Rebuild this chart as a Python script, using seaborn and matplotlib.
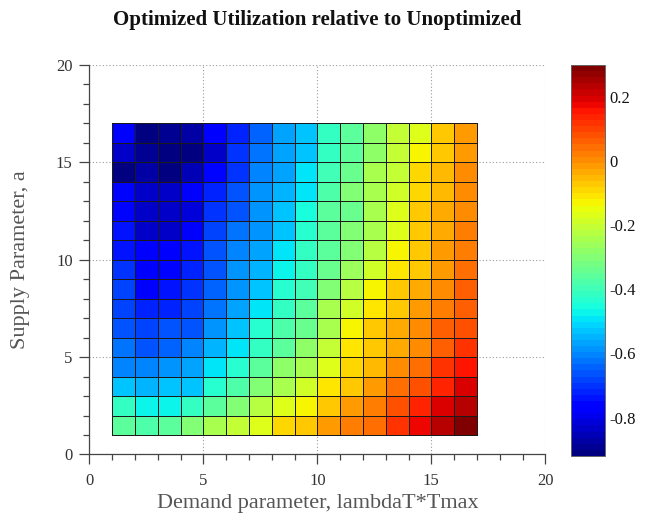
import numpy as np
import pandas as pd
import matplotlib
matplotlib.use("Agg")
import matplotlib.pyplot as plt
import seaborn as sns
from matplotlib.ticker import MultipleLocator

# ---- data (rows read from top: a = 16..17 down to a = 1..2) ----
demand = list(range(1, 17))          # lambdaT*Tmax cell lower edges
supply = list(range(16, 0, -1))      # supply parameter a, top row first

util_a16 = [-0.78, -0.91, -0.90, -0.88, -0.78, -0.72, -0.64, -0.56, -0.53, -0.41, -0.36, -0.28, -0.21, -0.16, -0.07, -0.02]
util_a15 = [-0.83, -0.89, -0.92, -0.91, -0.83, -0.70, -0.63, -0.56, -0.53, -0.41, -0.36, -0.28, -0.21, -0.13, -0.07, -0.02]
util_a14 = [-0.91, -0.87, -0.91, -0.86, -0.75, -0.70, -0.61, -0.56, -0.50, -0.39, -0.33, -0.25, -0.21, -0.10, -0.05, 0.00]
util_a13 = [-0.75, -0.84, -0.84, -0.77, -0.72, -0.67, -0.59, -0.55, -0.49, -0.38, -0.31, -0.24, -0.19, -0.10, -0.05, 0.00]
util_a12 = [-0.75, -0.84, -0.83, -0.81, -0.70, -0.66, -0.59, -0.53, -0.45, -0.36, -0.33, -0.25, -0.17, -0.08, -0.03, 0.01]
util_a11 = [-0.73, -0.83, -0.83, -0.78, -0.69, -0.63, -0.58, -0.52, -0.44, -0.36, -0.31, -0.24, -0.16, -0.08, -0.03, 0.03]
util_a10 = [-0.73, -0.77, -0.78, -0.73, -0.67, -0.61, -0.56, -0.50, -0.42, -0.35, -0.30, -0.22, -0.13, -0.07, -0.02, 0.03]
util_a9 = [-0.70, -0.78, -0.75, -0.72, -0.66, -0.59, -0.55, -0.47, -0.42, -0.33, -0.27, -0.19, -0.11, -0.07, -0.02, 0.04]
util_a8 = [-0.69, -0.77, -0.73, -0.70, -0.64, -0.58, -0.53, -0.44, -0.39, -0.30, -0.22, -0.13, -0.08, -0.03, 0.01, 0.06]
util_a7 = [-0.69, -0.72, -0.72, -0.69, -0.63, -0.56, -0.50, -0.42, -0.35, -0.25, -0.19, -0.11, -0.07, -0.02, 0.03, 0.07]
util_a6 = [-0.67, -0.69, -0.67, -0.66, -0.59, -0.53, -0.44, -0.38, -0.33, -0.24, -0.13, -0.08, -0.03, 0.00, 0.06, 0.09]
util_a5 = [-0.63, -0.66, -0.64, -0.61, -0.55, -0.50, -0.41, -0.35, -0.28, -0.21, -0.11, -0.07, -0.03, 0.01, 0.07, 0.12]
util_a4 = [-0.61, -0.61, -0.59, -0.56, -0.50, -0.44, -0.36, -0.28, -0.24, -0.16, -0.10, -0.05, 0.00, 0.04, 0.11, 0.15]
util_a3 = [-0.52, -0.55, -0.53, -0.52, -0.44, -0.38, -0.31, -0.25, -0.19, -0.11, -0.07, -0.02, 0.04, 0.09, 0.14, 0.20]
util_a2 = [-0.42, -0.47, -0.47, -0.41, -0.36, -0.31, -0.22, -0.17, -0.13, -0.08, -0.02, 0.03, 0.09, 0.14, 0.20, 0.23]
util_a1 = [-0.35, -0.38, -0.36, -0.31, -0.25, -0.21, -0.16, -0.10, -0.07, -0.02, 0.03, 0.04, 0.12, 0.18, 0.23, 0.30]

axis_ticks = [0, 5, 10, 15, 20]
cbar_ticks = [-0.8, -0.6, -0.4, -0.2, 0, 0.2]
cbar_labels = ["-0.8", "-0.6", "-0.4", "-0.2", "0", "0.2"]
c_min, c_max = -0.92, 0.30

rows = [util_a16, util_a15, util_a14, util_a13, util_a12, util_a11, util_a10, util_a9,
        util_a8, util_a7, util_a6, util_a5, util_a4, util_a3, util_a2, util_a1]
df = pd.DataFrame(rows, index=supply, columns=demand)

# ---- style ----
sns.set_style("white")
plt.rcParams["font.family"] = ["Liberation Serif", "DejaVu Serif"]
plt.rcParams["axes.unicode_minus"] = False

fig = plt.figure(figsize=(6.52, 5.14), dpi=100)
ax = fig.add_axes([0.137, 0.1158, 0.6994, 0.758])
cax = fig.add_axes([0.8758, 0.1128, 0.0521, 0.7607])

ax.set_xlim(0, 20)
ax.set_ylim(0, 20)
ax.set_xticks(axis_ticks)
ax.set_yticks(axis_ticks)
ax.xaxis.set_minor_locator(MultipleLocator(1))
ax.yaxis.set_minor_locator(MultipleLocator(1))
ax.grid(True, which="major", linestyle=(0, (1, 2)), color="#9a9a9a", linewidth=0.8)
ax.set_axisbelow(True)
for s in ["top", "right"]:
    ax.spines[s].set_visible(False)
for s in ["left", "bottom"]:
    ax.spines[s].set_color("#444444")
    ax.spines[s].set_linewidth(0.9)
ax.tick_params(axis="both", which="both", direction="out", color="#444444", width=0.9,
               bottom=True, left=True, labelsize=12, labelcolor="#333333")
ax.tick_params(axis="both", which="major", length=7)
ax.tick_params(axis="both", which="minor", length=4)
ax.tick_params(axis="x", which="major", pad=6)
ax.tick_params(axis="y", which="major", pad=5)

# heatmap cells placed over data range 1..17
hax = ax.inset_axes([1, 1, 16, 16], transform=ax.transData)
jet64 = plt.get_cmap("jet", 64)
sns.heatmap(df, ax=hax, cmap=jet64, vmin=c_min, vmax=c_max, linewidths=0.45,
            linecolor="#1a1a1a", cbar_ax=cax, cbar=True)
hax.set_axis_off()
for coll in hax.collections:
    coll.set_clip_on(False)

cb = hax.collections[0].colorbar
cb.set_ticks(cbar_ticks)
cb.set_ticklabels(cbar_labels)
cb.outline.set_edgecolor("#666666")
cb.outline.set_linewidth(0.7)
cax.yaxis.set_ticks_position("both")
cax.tick_params(which="major", direction="in", length=3, color="#333333",
                labelsize=12, labelcolor="#111111", labelright=True, labelleft=False, pad=3)
cax.minorticks_off()

ax.set_xlabel("Demand parameter, lambdaT*Tmax", fontsize=16, color="#555555", va="center")
ax.xaxis.set_label_coords(0.5, -0.125)
ax.set_ylabel("Supply Parameter, a", fontsize=16, color="#555555", va="center", ha="center")
ax.yaxis.set_label_coords(-0.152, 0.5)

fig.text(0.4867, 0.961, "Optimized Utilization relative to Unoptimized", ha="center",
         va="center", fontsize=15, fontweight="bold", color="#111111")

fig.savefig("out.png", dpi=100)
